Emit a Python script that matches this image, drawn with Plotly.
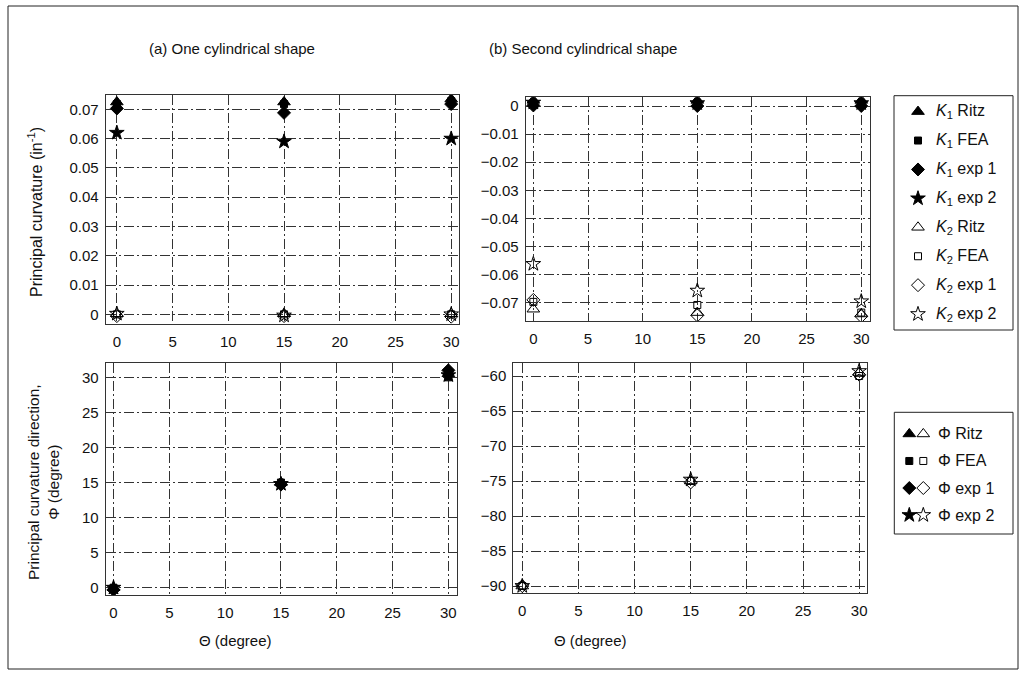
import plotly.graph_objects as go

W, H = 1026, 675

# ---------------- data ----------------
theta = [0, 15, 30]

# (a) One cylindrical shape - principal curvatures (1/in)
a_k1_ritz = [0.0725, 0.0725, 0.0735]
a_k1_fea = [0.0718, 0.0718, 0.0728]
a_k1_exp1 = [0.0703, 0.0688, 0.0718]
a_k1_exp2 = [0.0620, 0.0590, 0.0600]
a_k2_ritz = [0.0002, 0.0002, 0.0002]
a_k2_fea = [0.0000, 0.0000, 0.0000]
a_k2_exp1 = [-0.0006, -0.0006, -0.0008]
a_k2_exp2 = [0.0002, -0.0004, 0.0000]

# (b) Second cylindrical shape - principal curvatures (1/in)
b_k1_ritz = [0.0020, 0.0020, 0.0020]
b_k1_fea = [0.0010, 0.0010, 0.0010]
b_k1_exp1 = [0.0002, 0.0000, 0.0000]
b_k1_exp2 = [0.0012, 0.0010, 0.0010]
b_k2_ritz = [-0.0723, -0.0735, -0.0740]
b_k2_fea = [-0.0697, -0.0708, -0.0735]
b_k2_exp1 = [-0.0690, -0.0745, -0.0748]
b_k2_exp2 = [-0.0562, -0.0657, -0.0695]

# principal curvature direction (degree)
a_phi_ritz = [0.0, 15.0, 30.5]
a_phi_fea = [0.0, 15.0, 30.0]
a_phi_exp1 = [-0.3, 14.7, 31.0]
a_phi_exp2 = [0.0, 14.8, 30.3]
b_phi_ritz = [-90.0, -75.0, -59.5]
b_phi_fea = [-90.0, -75.0, -60.0]
b_phi_exp1 = [-90.0, -75.2, -59.8]
b_phi_exp2 = [-90.0, -74.8, -59.3]

method_names = ["Ritz", "FEA", "exp 1", "exp 2"]
panel_titles = ["(a) One cylindrical shape", "(b) Second cylindrical shape"]
x_title = "\u0398 (degree)"
y_title_top = "Principal curvature (in<sup>-1</sup>)"
y_title_bottom = "Principal curvature direction,<br>\u03a6 (degree)"

# ---------------- styling ----------------
FONT = "Liberation Sans, Arial, Helvetica, sans-serif"
filled_symbols = ["triangle-up", "square", "diamond", "star"]
open_symbols = ["triangle-up-open", "square-open", "diamond-open", "star-open"]
sym_sizes = [11, 7, 10, 11]


def px(x):
    return x / W


def py(y):
    return 1 - y / H


fig = go.Figure()

# panel pixel boxes: (left, right, top, bottom)
boxes = {
    "1": (105.7, 459.0, 95.0, 324.0),
    "2": (525.7, 870.0, 97.3, 321.0),
    "3": (105.7, 457.3, 363.3, 595.0),
    "4": (513.3, 867.0, 362.7, 593.3),
}
xranges = {"1": [-1.0, 30.7], "2": [-0.7, 30.8], "3": [-0.7, 30.8], "4": [-0.8, 30.7]}
yranges = {"1": [-0.0033, 0.0749], "2": [-0.0765, 0.0031], "3": [-1.04, 32.0], "4": [-91.04, -58.1]}
ydticks = {"1": 0.01, "2": 0.01, "3": 5, "4": 5}

grid = dict(showgrid=True, gridcolor="#333", griddash="10px,3px,2px,3px", gridwidth=1,
            showline=True, mirror=True, linecolor="#333", linewidth=1, zeroline=False,
            ticks="", tickfont=dict(family=FONT, size=15, color="#111"))

layout_axes = {}
for k, (l, r, t, b) in boxes.items():
    xn = "xaxis" if k == "1" else "xaxis" + k
    yn = "yaxis" if k == "1" else "yaxis" + k
    layout_axes[xn] = dict(domain=[px(l), px(r)], range=xranges[k], dtick=5, tick0=0,
                           anchor="y" if k == "1" else "y" + k, ticklabelstandoff=4, **grid)
    layout_axes[yn] = dict(domain=[py(b), py(t)], range=yranges[k], dtick=ydticks[k], tick0=0,
                           anchor="x" if k == "1" else "x" + k, ticklabelstandoff=3, **grid)


def add_series(xa, ya, values, symbols):
    for i, v in enumerate(values):
        fig.add_trace(go.Scatter(
            x=theta, y=v, mode="markers", xaxis=xa, yaxis=ya, showlegend=False,
            marker=dict(symbol=symbols[i], size=sym_sizes[i], color="black",
                        line=dict(color="black", width=1))))


add_series("x", "y", [a_k2_ritz, a_k2_fea, a_k2_exp1, a_k2_exp2], open_symbols)
add_series("x", "y", [a_k1_ritz, a_k1_fea, a_k1_exp1, a_k1_exp2], filled_symbols)
add_series("x2", "y2", [b_k2_ritz, b_k2_fea, b_k2_exp1, b_k2_exp2], open_symbols)
add_series("x2", "y2", [b_k1_ritz, b_k1_fea, b_k1_exp1, b_k1_exp2], filled_symbols)
add_series("x3", "y3", [a_phi_ritz, a_phi_fea, a_phi_exp1, a_phi_exp2], filled_symbols)
add_series("x4", "y4", [b_phi_ritz, b_phi_fea, b_phi_exp1, b_phi_exp2], open_symbols)

# ---------------- custom legends ----------------
L1 = (894.0, 1013.0, 95.7, 330.0)
L2 = (894.3, 1013.0, 412.3, 534.0)
leg1_labels = ["<i>K</i><sub>1</sub> " + m for m in method_names] + \
              ["<i>K</i><sub>2</sub> " + m for m in method_names]
leg2_labels = ["\u03a6 " + m for m in method_names]

layout_axes["xaxis5"] = dict(domain=[px(L1[0]), px(L1[1])], range=[0, L1[1] - L1[0]],
                             visible=False, anchor="y5")
layout_axes["yaxis5"] = dict(domain=[py(L1[3]), py(L1[2])], range=[7.55, -0.55],
                             visible=False, anchor="x5")
layout_axes["xaxis6"] = dict(domain=[px(L2[0]), px(L2[1])], range=[0, L2[1] - L2[0]],
                             visible=False, anchor="y6")
layout_axes["yaxis6"] = dict(domain=[py(L2[3]), py(L2[2])], range=[3.7, -0.8],
                             visible=False, anchor="x6")

leg1_syms = filled_symbols + open_symbols
for i in range(len(leg1_labels)):
    fig.add_trace(go.Scatter(
        x=[24], y=[i], mode="markers", xaxis="x5", yaxis="y5", showlegend=False,
        marker=dict(symbol=leg1_syms[i], size=sym_sizes[i % 4], color="black",
                    line=dict(color="black", width=1))))
    fig.add_annotation(x=40, y=i, xref="x5", yref="y5", text=leg1_labels[i], showarrow=False,
                       xanchor="left", yanchor="middle",
                       font=dict(family=FONT, size=16, color="#111"))

for i in range(len(leg2_labels)):
    fig.add_trace(go.Scatter(
        x=[15, 29], y=[i, i], mode="markers", xaxis="x6", yaxis="y6", showlegend=False,
        marker=dict(symbol=[filled_symbols[i], open_symbols[i]], size=sym_sizes[i],
                    color="black", line=dict(color="black", width=1))))
    fig.add_annotation(x=42, y=i, xref="x6", yref="y6", text=leg2_labels[i], showarrow=False,
                       xanchor="left", yanchor="middle",
                       font=dict(family=FONT, size=16, color="#111"))

shapes = [
    dict(type="rect", xref="paper", yref="paper", x0=px(8), x1=px(1018), y0=py(669), y1=py(6),
         line=dict(color="#222", width=1)),
    dict(type="rect", xref="paper", yref="paper", x0=px(L1[0]), x1=px(L1[1]), y0=py(L1[3]), y1=py(L1[2]),
         line=dict(color="#222", width=1)),
    dict(type="rect", xref="paper", yref="paper", x0=px(L2[0]), x1=px(L2[1]), y0=py(L2[3]), y1=py(L2[2]),
         line=dict(color="#222", width=1)),
]

ann = [
    dict(x=px(232), y=py(48), text=panel_titles[0], size=15),
    dict(x=px(583), y=py(48), text=panel_titles[1], size=15),
    dict(x=px(235), y=py(640), text=x_title, size=15),
    dict(x=px(590), y=py(640), text=x_title, size=15),
    dict(x=px(35), y=py(212), text=y_title_top, textangle=-90, size=16),
    dict(x=px(43), y=py(482), text=y_title_bottom, textangle=-90, size=15.5),
]
for a in ann:
    s = a.pop("size")
    fig.add_annotation(xref="paper", yref="paper", showarrow=False, xanchor="center",
                       yanchor="middle", font=dict(family=FONT, size=s, color="#111"), **a)

fig.update_layout(
    width=W, height=H, margin=dict(l=0, r=0, t=0, b=0),
    paper_bgcolor="white", plot_bgcolor="white", showlegend=False,
    shapes=shapes, font=dict(family=FONT, color="#111"),
    **layout_axes,
)

fig.write_html("out.html")
